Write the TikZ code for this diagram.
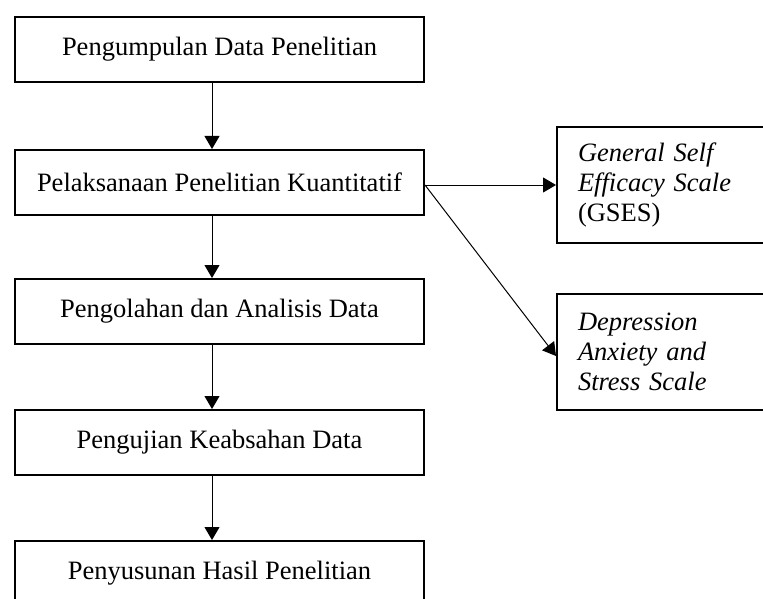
\documentclass[tikz,border=0pt]{standalone}
\usepackage{fontspec}
\setmainfont{Liberation Serif}
\usetikzlibrary{arrows.meta}
\begin{document}
\begin{tikzpicture}[x=1pt,y=-1pt,
  mainbox/.style={draw, line width=2pt, minimum width=409pt, minimum height=65pt, inner sep=0pt,
    font=\fontsize{26.5}{30}\selectfont, anchor=north west},
  sidebox/.style={draw, line width=2pt, minimum width=220pt, minimum height=116pt, inner xsep=21pt,
    inner ysep=0pt, text width=178pt, align=left, font=\fontsize{26.5}{30}\selectfont\itshape, anchor=north west},
  conn/.style={line width=1pt, -{Triangle[width=15pt,length=13pt]}}]
\useasboundingbox (0,0) rectangle (763,599);
\node[mainbox] (b1) at (14,16) {Pengumpulan Data Penelitian};
\node[mainbox] (b2) at (14,149) {Pelaksanaan Penelitian Kuantitatif};
\node[mainbox] (b3) at (14,278) {Pengolahan dan Analisis Data};
\node[mainbox] (b4) at (14,409) {Pengujian Keabsahan Data};
\node[mainbox] (b5) at (14,540) {Penyusunan Hasil Penelitian};
\node[sidebox] (gses) at (556,126) {General Self\\Efficacy Scale\\\upshape(GSES)};
\node[sidebox] (dass) at (556,293) {Depression\\Anxiety and\\Stress Scale};
\coordinate (ax) at (212,0);
\draw[conn] (b1.south -| ax) -- (b2.north -| ax);
\draw[conn] (b2.south -| ax) -- (b3.north -| ax);
\draw[conn] (b3.south -| ax) -- (b4.north -| ax);
\draw[conn] (b4.south -| ax) -- (b5.north -| ax);
\coordinate (src) at (gses.west -| b2.east);
\draw[conn] (src) -- (gses.west);
\draw[conn] (src) -- ([yshift=-4pt]dass.west);
\end{tikzpicture}
\end{document}
